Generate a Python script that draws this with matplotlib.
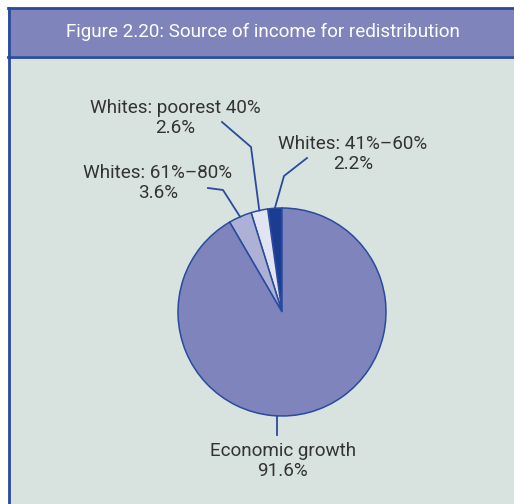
import numpy as np
import matplotlib
matplotlib.use("Agg")
from matplotlib import pyplot as plt
from matplotlib.patches import Rectangle

labels = ["Whites: 41%\u201360%", "Whites: poorest 40%", "Whites: 61%\u201380%", "Economic growth"]
shares = [2.2, 2.6, 3.6, 91.6]
colors = ["#1b3c90", "#e2e4f2", "#adb1d6", "#7f84bc"]

W, H = 514, 504
plt.rcParams['font.family'] = ['Roboto', 'DejaVu Sans']

fig = plt.figure(figsize=(W / 100, H / 100), dpi=100)
ax = fig.add_axes([0, 0, 1, 1])

def py(y):
    # pixel row (from top) -> data y
    return H - y

edge = "#2a4a9e"
bg = "#d8e3df"
# frame: body, title bar, borders
ax.add_patch(Rectangle((8, 0), W - 8, py(56), facecolor=bg, edgecolor="none", zorder=0))
ax.add_patch(Rectangle((8, py(56)), W - 8, 48, facecolor="#7f84bb", edgecolor="none", zorder=0))
ax.plot([8, W], [py(7.5), py(7.5)], color=edge, lw=2, zorder=1)
ax.plot([8, W], [py(56.5), py(56.5)], color=edge, lw=2, zorder=1)
ax.plot([8.5, 8.5], [0, py(7.5)], color=edge, lw=2, zorder=1)
ax.text(263, py(32), "Figure 2.20: Source of income for redistribution",
        color="white", fontsize=13.6, ha="center", va="center", zorder=2)

cx, cy, r = 282, py(312), 104
wedges, _ = ax.pie(shares, colors=colors, startangle=90, counterclock=True,
                   center=(cx, cy), radius=r,
                   wedgeprops=dict(edgecolor=edge, linewidth=1.1), frame=True)
ax.set_xlim(0, W)
ax.set_ylim(0, H)
ax.set_aspect("equal")
ax.axis("off")

# leader lines: start on the wedge edge, then elbow and end (pixel layout)
bends = [[(284, 176), (307, 158)],
         [(251, 147), (222, 122)],
         [(223, 190), (208, 188)]]
text_pos = [(353, 154), (175, 118), (158, 183)]
tc = "#333333"
fs = 13.6
for i in range(3):
    w = wedges[i]
    mid = np.deg2rad((w.theta1 + w.theta2) / 2)
    sx, sy = cx + r * np.cos(mid), cy + r * np.sin(mid)
    xs = [sx] + [p[0] for p in bends[i]]
    ys = [sy] + [py(p[1]) for p in bends[i]]
    ax.plot(xs, ys, color=edge, lw=1.3, zorder=3)
    ax.text(text_pos[i][0], py(text_pos[i][1]), "%s\n%.1f%%" % (labels[i], shares[i]),
            color=tc, fontsize=fs, ha="center", va="center",
            linespacing=1.1, zorder=3)

# economic growth label below the pie
ax.plot([277, 277], [cy - np.sqrt(r**2 - 5**2), py(435)], color=edge, lw=1.3, zorder=3)
ax.text(283, py(461), "%s\n%.1f%%" % (labels[3], shares[3]),
        color=tc, fontsize=fs, ha="center", va="center",
        linespacing=1.1, zorder=3)

fig.savefig("out.png", dpi=100)
